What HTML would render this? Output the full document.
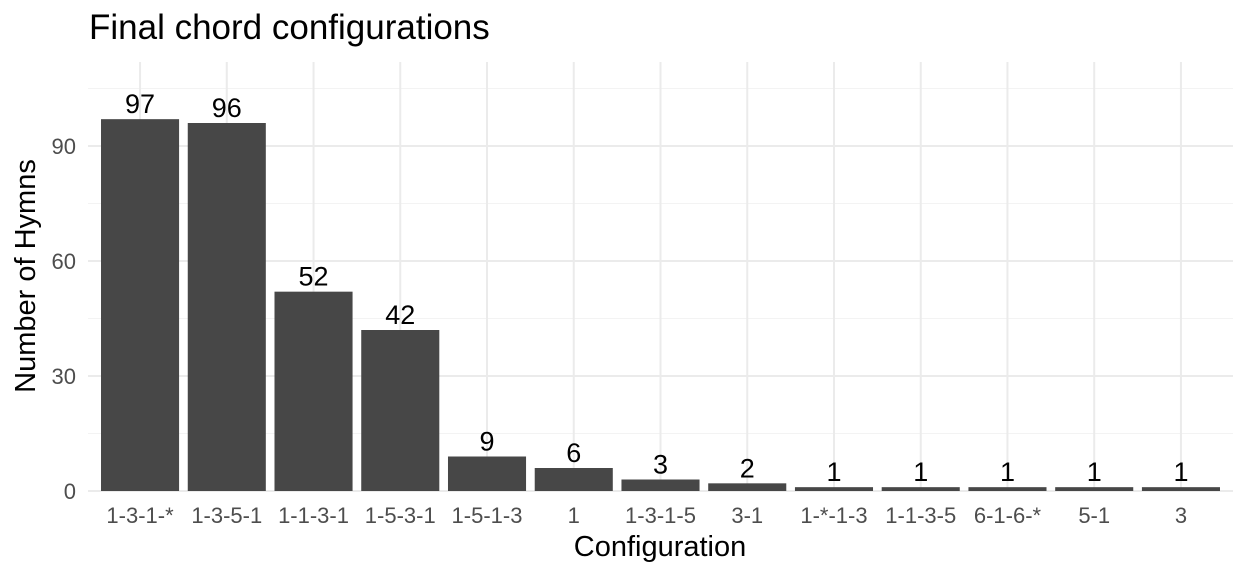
<!DOCTYPE html>
<html><head><meta charset="utf-8"><style>
body{margin:0;background:#fff;}
svg{display:block;font-family:"Liberation Sans",Arial,sans-serif;}
</style></head><body>
<svg id="chart" width="1248" height="576" viewBox="0 0 1248 576">
<text x="89" y="39" font-size="35" fill="#000">Final chord configurations</text>
<g id="grid"></g><g id="bars"></g><g id="labels"></g><g id="ticks"></g>
<text x="660" y="556" font-size="29" text-anchor="middle" fill="#000">Configuration</text>
<text transform="translate(35,276) rotate(-90)" font-size="29" text-anchor="middle" fill="#000">Number of Hymns</text>
</svg>
<script>
const categories=["1-3-1-*","1-3-5-1","1-1-3-1","1-5-3-1","1-5-1-3","1","1-3-1-5","3-1","1-*-1-3","1-1-3-5","6-1-6-*","5-1","3"];
const values=[97,96,52,42,9,6,3,2,1,1,1,1,1];
const yTicks=[0,30,60,90];
const yMinor=[15,45,75,105];
const ns="http://www.w3.org/2000/svg";
const L=88,R=1233,T=62,B=491,step=(R-L)/(categories.length+0.2);
const y=v=>B-v*(345/90);
const x=i=>L+step*(0.6+i);
function mk(t,a,p){const e=document.createElementNS(ns,t);for(const k in a)e.setAttribute(k,a[k]);document.getElementById(p).appendChild(e);return e;}
yMinor.forEach(v=>{if(y(v)<T)return;const e=mk('line',{x1:L,x2:R,y1:y(v),y2:y(v),stroke:'#f3f3f3','stroke-width':1},'grid');

});
yTicks.forEach(v=>{const e=mk('line',{x1:L,x2:R,y1:y(v),y2:y(v),stroke:'#ebebeb','stroke-width':2},'grid');


const t=mk('text',{x:76,y:y(v)+8,'font-size':22,fill:'#4d4d4d','text-anchor':'end'},'ticks');t.textContent=v;

});
categories.forEach((c,i)=>{const e=mk('line',{x1:x(i),x2:x(i),y1:T,y2:B,stroke:'#ebebeb','stroke-width':2},'grid');

});
categories.forEach((c,i)=>{const w=step*0.9;
const b=mk('rect',{x:x(i)-w/2,y:y(values[i]),width:w,height:B-y(values[i]),fill:'#474747'},'bars');


const t=mk('text',{x:x(i),y:y(values[i])-6,'font-size':27,'text-anchor':'middle',fill:'#000'},'labels');t.textContent=values[i];


const k=mk('text',{x:x(i),y:B+32,'font-size':22,'text-anchor':'middle',fill:'#4d4d4d'},'ticks');k.textContent=c;

});
</script>
</body></html>
